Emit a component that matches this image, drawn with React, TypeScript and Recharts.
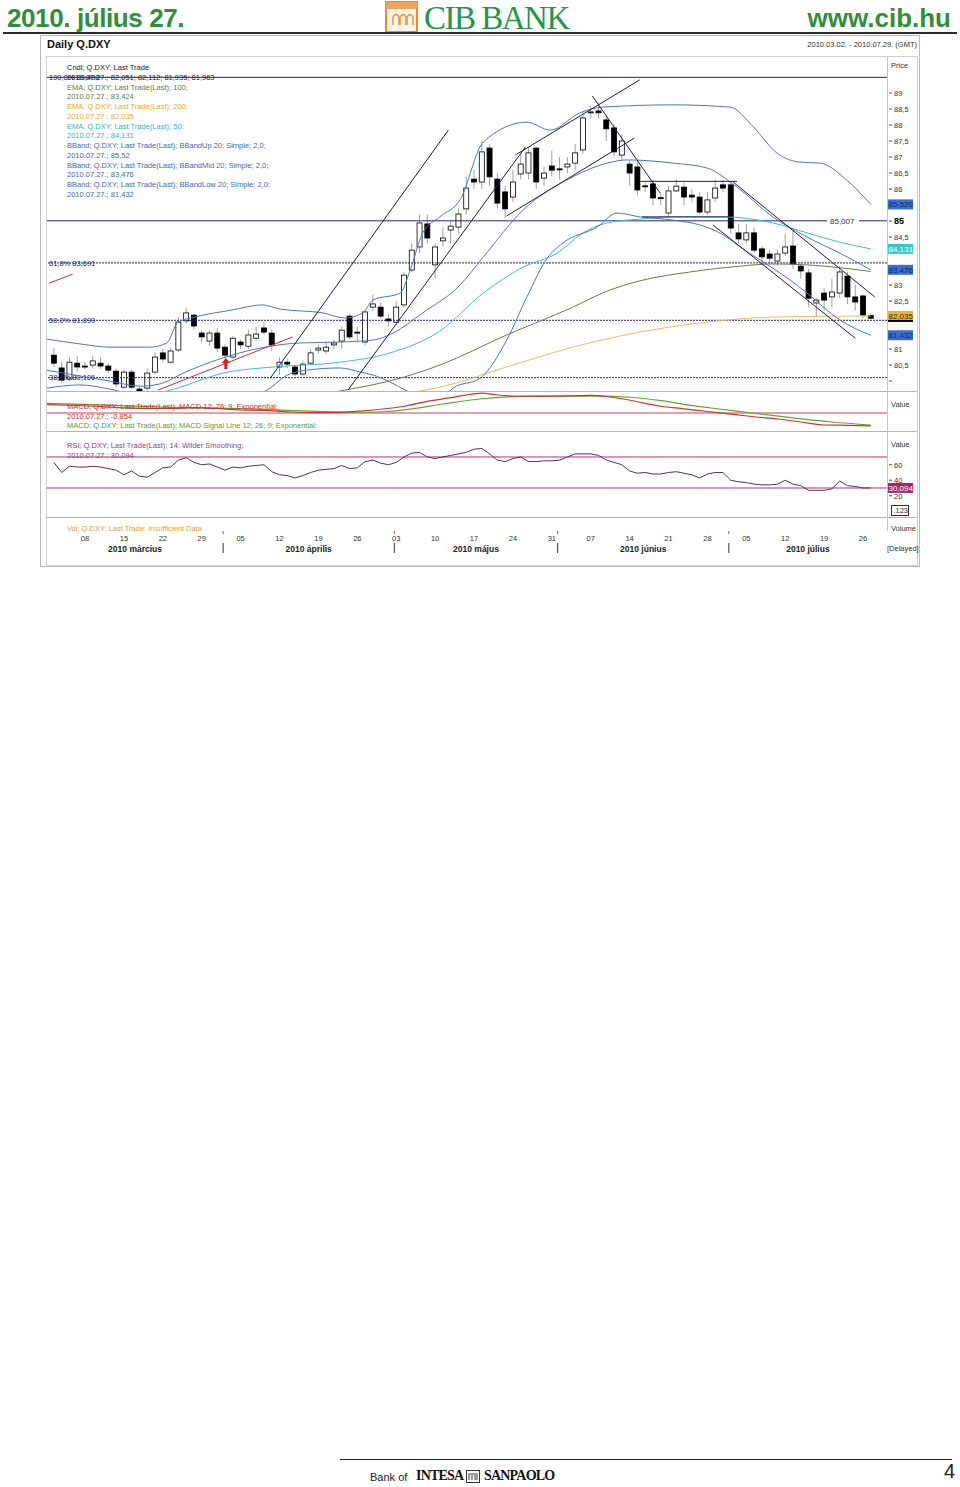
import React from 'react';
import { ComposedChart, Bar, Line, XAxis, YAxis, ReferenceLine, ReferenceDot } from 'recharts';

// daily candles 2010.03.02 - 2010.07.27 (index 0 = Mar 2)
const opens = [80.81, 80.41, 80.06, 80.56, 80.47, 80.5, 80.56, 80.47, 80.31, 79.81, 80.28, 79.75, 79.78, 80.28, 80.88, 80.59, 80.97, 81.88, 82.06, 81.5, 81.25, 81.5, 81.06, 80.75, 81.22, 81.09, 81.34, 81.66, 81.5, 80.44, 80.59, 80.44, 80.22, 80.56, 80.97, 80.94, 81.13, 81.25, 82.03, 81.53, 81.22, 82.31, 82.31, 81.94, 81.84, 82.38, 83.47, 84.19, 84.91, 83.63, 84.38, 84.72, 84.81, 85.38, 86.31, 86.22, 87.28, 86.31, 85.91, 85.75, 86.47, 86.5, 87.28, 86.34, 86.72, 86.63, 86.69, 86.81, 87.22, 88.38, 88.44, 88.16, 87.91, 87.06, 86.78, 86.69, 86.1, 86.16, 85.73, 85.25, 85.94, 86.06, 85.81, 85.75, 85.28, 85.72, 86.13, 86.13, 84.63, 84.41, 84.63, 84.13, 83.97, 83.75, 84.0, 84.22, 83.59, 83.38, 82.44, 82.75, 82.63, 82.75, 83.28, 82.63, 82.66, 82.051];
const highs = [81.03, 80.6, 80.75, 80.78, 80.6, 80.8, 80.75, 80.55, 80.4, 80.35, 80.35, 79.85, 80.4, 80.9, 81.0, 81.05, 82.0, 82.3, 82.1, 81.6, 81.6, 81.65, 81.15, 81.4, 81.3, 81.6, 81.7, 81.85, 81.6, 80.75, 80.7, 80.5, 80.65, 81.0, 81.15, 81.2, 81.3, 81.7, 82.1, 81.7, 82.2, 82.7, 82.45, 82.1, 82.5, 83.4, 84.3, 85.2, 85.2, 84.3, 84.8, 85.0, 85.4, 86.4, 86.6, 87.5, 87.4, 86.5, 86.1, 86.6, 87.1, 87.3, 87.3, 86.7, 87.2, 87.0, 87.0, 87.4, 88.4, 88.6, 88.7, 88.3, 88.0, 87.7, 86.9, 86.9, 86.2, 86.3, 85.9, 86.1, 86.3, 86.2, 86.0, 85.9, 85.9, 86.3, 86.3, 86.2, 84.9, 84.9, 84.8, 84.2, 84.1, 84.1, 84.6, 84.7, 83.7, 83.5, 82.6, 82.9, 83.2, 83.6, 83.4, 83.0, 82.7, 82.112];
const lows = [80.44, 79.95, 80.0, 80.3, 80.35, 80.4, 80.38, 80.25, 79.8, 79.75, 79.75, 79.6, 79.7, 80.2, 80.6, 80.55, 80.9, 81.8, 81.6, 81.2, 81.1, 80.9, 80.7, 80.7, 81.0, 81.0, 81.25, 81.45, 80.95, 80.2, 80.4, 80.15, 80.15, 80.5, 80.85, 80.85, 81.0, 81.0, 81.3, 81.2, 81.1, 82.2, 81.95, 81.7, 81.75, 82.3, 83.4, 84.0, 84.3, 83.2, 84.2, 84.3, 84.6, 85.2, 86.0, 86.0, 86.1, 85.4, 85.1, 85.6, 86.3, 86.3, 86.0, 86.1, 86.4, 86.3, 86.5, 86.6, 87.1, 88.2, 88.2, 87.5, 87.0, 86.9, 86.1, 85.8, 85.9, 85.5, 85.5, 85.1, 85.9, 85.5, 85.6, 85.2, 85.2, 85.6, 85.9, 84.6, 84.3, 84.3, 84.0, 83.7, 83.7, 83.6, 83.9, 83.5, 83.2, 82.3, 82.0, 82.2, 82.3, 82.6, 82.4, 82.2, 81.95, 81.935];
const closes = [80.56, 80.03, 80.59, 80.44, 80.45, 80.63, 80.47, 80.34, 79.91, 80.28, 79.81, 79.66, 80.25, 80.75, 80.69, 80.94, 81.84, 82.13, 81.72, 81.38, 81.5, 81.03, 80.81, 81.34, 81.13, 81.44, 81.47, 81.53, 81.13, 80.59, 80.53, 80.22, 80.53, 80.88, 81.03, 81.06, 81.19, 81.59, 81.38, 81.5, 82.16, 82.41, 82.03, 81.88, 82.31, 83.31, 84.09, 84.94, 84.47, 84.19, 84.47, 84.84, 85.22, 86.03, 86.22, 87.16, 86.38, 85.56, 85.38, 86.22, 86.78, 87.13, 86.22, 86.5, 86.59, 86.6, 86.78, 87.13, 88.22, 88.41, 88.38, 87.88, 87.16, 87.5, 86.5, 85.97, 86.09, 85.72, 85.72, 85.94, 86.09, 85.75, 85.75, 85.28, 85.66, 86.03, 86.03, 84.78, 84.44, 84.63, 84.09, 83.88, 83.84, 83.97, 84.19, 83.66, 83.44, 82.59, 82.53, 82.53, 82.78, 83.41, 82.63, 82.47, 82.06, 81.963];

// indicator readings [day index, value]
const ema50 = [[-1, 79.2], [8, 79.45], [14.5, 79.69], [22.3, 80.28], [28.2, 80.44], [36.8, 80.59], [43.2, 80.88], [49.6, 81.56], [55.2, 82.75], [60.3, 83.56], [64.7, 84.0], [68, 84.63], [71.1, 84.94], [75.3, 85.06], [79.6, 85.13], [86, 85.13], [92.4, 84.94], [96.8, 84.63], [101, 84.34], [105, 84.131]];
const ema100 = [[-1, 78.7], [20, 79.2], [36.8, 79.69], [44.5, 80.09], [49.6, 80.5], [58.2, 81.44], [66.7, 82.31], [71.1, 82.81], [75.3, 83.13], [81.8, 83.41], [88.2, 83.59], [92.4, 83.66], [96.8, 83.63], [105, 83.424]];
const ema200 = [[-1, 78.6], [30, 79.2], [47.1, 79.69], [49.6, 79.81], [58.2, 80.44], [66.7, 81.06], [75.3, 81.53], [83.9, 81.84], [92.4, 82.0], [105, 82.035]];
const bbUp = [[-0.9, 81.31], [3.35, 81.16], [7.2, 81.06], [12.35, 81.06], [14.5, 81.19], [15.95, 81.84], [18.1, 82.0], [22.9, 82.22], [26.75, 82.38], [29.1, 82.25], [34.6, 82.13], [37.4, 81.97], [39.7, 82.13], [41, 82.53], [44.5, 82.75], [45.8, 83.47], [47.4, 84.63], [49.6, 85.13], [52.2, 85.66], [55.2, 87.47], [60.8, 88.09], [63.8, 87.84], [67.6, 88.38], [70.6, 88.56], [79.6, 88.63], [86.9, 88.56], [89.9, 87.94], [92.9, 87.13], [95.9, 86.84], [98.5, 86.81], [101.9, 86.28], [105, 85.52]];
const bbMid = [[-0.9, 80.34], [3.35, 80.16], [7.2, 80.0], [11.1, 79.84], [13.6, 79.91], [16.9, 80.28], [20.1, 80.59], [23.9, 80.88], [27.8, 81.09], [31.6, 81.19], [36.8, 81.22], [41, 81.28], [43.6, 81.5], [47.4, 82.13], [52.2, 83.0], [55.2, 83.88], [60.3, 85.34], [66.7, 86.38], [71.1, 86.81], [73.7, 86.91], [79.6, 86.81], [83.9, 86.66], [87.8, 86.06], [92.4, 85.13], [96.8, 84.5], [101, 84.0], [105, 83.476]];
const bbLow = [[-0.9, 79.78], [3.35, 79.88], [7.2, 79.75], [11.1, 79.53], [18.8, 79.4], [23.9, 79.5], [27.4, 79.72], [30, 80.19], [32.5, 80.34], [36.8, 80.41], [39.4, 80.28], [41, 80.19], [43.2, 79.97], [45.4, 79.69], [47.7, 79.4], [50.3, 79.56], [51.3, 79.78], [54.8, 80.09], [58.2, 81.28], [60.8, 82.63], [63.4, 83.84], [65.4, 84.31], [69.8, 84.81], [72.4, 85.25], [75.3, 85.13], [79.6, 85.03], [83.9, 84.81], [86.5, 84.5], [88.2, 84.19], [90.8, 83.78], [94.6, 83.16], [96.8, 82.75], [101, 81.91], [105, 81.432]];

const macd = [[-1, 0.56], [3, 0.5], [6, 0.43], [9, 0.35], [12, 0.3], [15, 0.3], [18, 0.36], [21, 0.3], [24, 0.2], [27, 0.18], [30, 0.08], [33, 0.02], [36, 0.03], [39, 0.12], [42, 0.25], [45, 0.45], [48, 0.78], [51, 1.02], [54, 1.28], [55, 1.33], [57, 1.2], [60, 1.12], [63, 1.12], [66, 1.14], [69, 1.18], [71, 1.1], [73, 0.95], [75, 0.75], [78, 0.45], [81, 0.28], [84, 0.1], [87, -0.08], [90, -0.25], [93, -0.4], [96, -0.6], [99, -0.8], [102, -0.82], [105, -0.854]];
const signal = [[-1, 0.65], [5, 0.56], [10, 0.46], [15, 0.38], [20, 0.34], [25, 0.27], [30, 0.18], [35, 0.09], [40, 0.05], [43, 0.1], [46, 0.28], [50, 0.6], [55, 0.95], [60, 1.1], [65, 1.13], [70, 1.13], [74, 1.05], [78, 0.82], [81, 0.58], [85, 0.3], [89, 0.05], [95, -0.32], [100, -0.6], [105, -0.8]];
const rsi = [63, 50, 58, 57, 57, 58, 57, 55, 53, 47, 52, 45, 44, 50, 56, 57, 66, 69, 63, 60, 61, 57, 53, 57, 56, 58, 59, 60, 51, 47, 46, 43, 46, 50, 53, 54, 55, 59, 55, 56, 64, 66, 62, 60, 63, 70, 75, 76, 70, 68, 70, 72, 74, 76, 80, 81, 74, 66, 64, 68, 70, 64, 64, 65, 65, 66, 70, 74, 74, 74, 72, 66, 63, 60, 52, 49, 50, 48, 48, 50, 51, 49, 47, 43, 48, 50, 50, 40, 38, 37, 35, 34, 34, 35, 40, 35, 33, 27, 27, 27, 29, 39, 33, 32, 30, 30.094];

// fibonacci / horizontal levels
const fibLevels = [
  { v: 89.49, text: '100,0%   89,490', dashed: false },
  { v: 83.691, text: '61,8%   83,691', dashed: true },
  { v: 81.899, text: '50,0%   81,899', dashed: true },
  { v: 80.106, text: '38,2%   80,106', dashed: true },
];
// trend lines [i1, p1, i2, p2]
const trendLines = [
  [27.8, 80.09, 50.7, 87.84],
  [37.8, 79.72, 60.6, 87.31],
  [59.3, 87.06, 75.3, 89.41],
  [58.2, 85.16, 74.6, 87.59],
  [69.2, 88.91, 77.9, 85.88],
  [87.3, 86.22, 105.5, 82.63],
  [84.7, 84.88, 103, 81.34],
  [75.4, 86.24, 87.8, 86.24],
  [75.6, 85.13, 87.0, 85.13],
];
const redLines = [
  [13.4, 79.72, 30.7, 81.38],
  [-0.6, 83.06, 2.4, 83.34],
];
const priceTicks = [80, 80.5, 81, 82.5, 83, 84.5, 85, 86, 86.5, 87, 87.5, 88, 88.5, 89];
const rightTags = [
  { v: 85.52, text: '85,520', bg: '#3a6fd0', fg: '#0d2a70' },
  { v: 84.131, text: '84,131', bg: '#36c8c8', fg: '#ffffff' },
  { v: 83.476, text: '83,476', bg: '#3a6fd0', fg: '#0d2a70' },
  { v: 82.035, text: '82,035', bg: '#e9b436', fg: '#3a2800' },
  { v: 81.432, text: '81,432', bg: '#3a6fd0', fg: '#0d2a70' },
];
const mondayIdx = [4, 9, 14, 19, 24, 29, 34, 39, 44, 49, 54, 59, 64, 69, 74, 79, 84, 89, 94, 99, 104];
const dayLabels = ['08', '15', '22', '29', '05', '12', '19', '26', '03', '10', '17', '24', '31', '07', '14', '21', '28', '05', '12', '19', '26'];
const monthEnds = [21.75, 43.75, 64.75, 86.75];
const monthNames = ['2010 március', '2010 április', '2010 május', '2010 június', '2010 július'];

const legendPrice = [
  ['Cndl; Q.DXY; Last Trade', '#222'],
  ['2010.07.27.; 82,051; 82,112; 81,935; 81,963', '#222'],
  ['EMA; Q.DXY; Last Trade(Last);  100;', '#5e7b38'],
  ['2010.07.27.; 83,424', '#5e7b38'],
  ['EMA; Q.DXY; Last Trade(Last);  200;', '#e2a82c'],
  ['2010.07.27.; 82,035', '#e2a82c'],
  ['EMA; Q.DXY; Last Trade(Last);  50;', '#2fb5c4'],
  ['2010.07.27.; 84,131', '#2fb5c4'],
  ['BBand; Q.DXY; Last Trade(Last); BBandUp 20; Simple; 2,0;', '#3d6ab5'],
  ['2010.07.27.; 85,52', '#3d6ab5'],
  ['BBand; Q.DXY; Last Trade(Last); BBandMid 20; Simple; 2,0;', '#3d6ab5'],
  ['2010.07.27.; 83,476', '#3d6ab5'],
  ['BBand; Q.DXY; Last Trade(Last); BBandLow 20; Simple; 2,0;', '#3d6ab5'],
  ['2010.07.27.; 81,432', '#3d6ab5'],
];

const X_DOMAIN: [number, number] = [-0.887, 107.08];
const FONT = '"Liberation Sans", Arial, Helvetica, sans-serif';
const NAVY = '#23236b';

const candles = opens.map((o, i) => ({ i, o, h: highs[i], l: lows[i], c: closes[i] }));
const pts = (arr: number[][]) => arr.map(([i, v]) => ({ i, v }));
const rsiPts = rsi.map((v, i) => ({ i, v }));
const monthCenters = monthNames.map((_, k) => {
  const a = k === 0 ? X_DOMAIN[0] : monthEnds[k - 1];
  const b = k === monthEnds.length ? X_DOMAIN[1] : monthEnds[k];
  return (a + b) / 2;
});

const Candle = (props: any) => {
  const { x, y, width, height, payload } = props;
  if (!payload || x == null) return null;
  const { o, h, l, c } = payload;
  const top = Math.min(y, y + height);
  const span = Math.abs(height);
  const k = h - l > 0 ? span / (h - l) : 0;
  const yOf = (v: number) => top + (h - v) * k;
  const cx = x + width / 2;
  const bt = yOf(Math.max(o, c));
  const bb = yOf(Math.min(o, c));
  return (
    <g>
      <line x1={cx} x2={cx} y1={top} y2={top + span} stroke="#a0a0a0" strokeWidth={1} />
      <rect x={cx - 2.5} y={bt} width={5} height={Math.max(1, bb - bt)} fill={c >= o ? '#ffffff' : '#000000'} stroke="#000" strokeWidth={0.8} />
    </g>
  );
};

const AxisTick = (props: any) => {
  const { x, y, payload } = props;
  const v = payload.value;
  const bold = v === 85;
  return (
    <g>
      <line x1={x - 6} x2={x - 3} y1={y} y2={y} stroke="#555" />
      <text x={x - 1} y={y + 2.8} fontSize={bold ? 9 : 7.5} fontWeight={bold ? 700 : 400} fill={bold ? '#000' : '#333'} fontFamily={FONT}>
        {v === 80 ? '' : String(v).replace('.', ',')}
      </text>
    </g>
  );
};

const tagLabel = (t: any) => (p: any) => {
  const vb = p.viewBox;
  const x = vb.x + vb.width + 1;
  return (
    <g>
      <rect x={x} y={vb.y - 5} width={25} height={10} fill={t.bg} />
      {t.v === 82.035 && <rect x={x} y={vb.y + 4} width={25} height={2} fill="#000" />}
      <text x={x + 0.5} y={vb.y + 3} fontSize={8} fill={t.fg} fontFamily={FONT}>{t.text}</text>
    </g>
  );
};

const fibLabel = (text: string) => (p: any) => {
  const vb = p.viewBox;
  return (
    <text x={vb.x + 2} y={vb.y + 2.8} fontSize={7.5} fill={NAVY} fontFamily={FONT}>{text}</text>
  );
};

const levelLabel = (p: any) => {
  const vb = p.viewBox;
  const x = vb.x + vb.width - 60;
  return (
    <g>
      <rect x={x} y={vb.y - 5} width={32} height={10} fill="#fff" />
      <text x={x + 3} y={vb.y + 3} fontSize={8} fill="#333" fontFamily={FONT}>85,007</text>
    </g>
  );
};

const Arrow = (props: any) => {
  const { cx, cy } = props;
  return (
    <path d={`M${cx},${cy} L${cx + 4},${cy + 5} L${cx + 1.5},${cy + 5} L${cx + 1.5},${cy + 11} L${cx - 1.5},${cy + 11} L${cx - 1.5},${cy + 5} L${cx - 4},${cy + 5} Z`} fill="#e01818" />
  );
};

const DayTick = (props: any) => {
  const { x, y, payload } = props;
  const k = mondayIdx.indexOf(payload.value);
  return (
    <text x={x} y={y + 2} textAnchor="middle" fontSize={7.5} fill="#333" fontFamily={FONT}>{dayLabels[k]}</text>
  );
};

const MonthTick = (props: any) => {
  const { x, y, payload } = props;
  const k = monthCenters.indexOf(payload.value);
  if (k >= 0) {
    return (
      <text x={x} y={y + 1} textAnchor="middle" fontSize={8.5} fontWeight={700} fill="#222" fontFamily={FONT}>{monthNames[k]}</text>
    );
  }
  return (
    <g>
      <line x1={x} x2={x} y1={y - 8} y2={y + 2} stroke="#333" strokeWidth={1} />
      <line x1={x} x2={x} y1={y - 20} y2={y - 17} stroke="#666" strokeWidth={1} />
    </g>
  );
};

const Txt = ({ x, y, size = 7.5, color = '#333', bold = false, children, right = false, family = FONT, style = {} }: any) => (
  <div style={{
    position: 'absolute', top: y, ...(right ? { right: 960 - x } : { left: x }), fontSize: size, lineHeight: `${size + 2}px`,
    color, fontWeight: bold ? 700 : 400, whiteSpace: 'nowrap', fontFamily: family, ...style,
  }}>{children}</div>
);

const lineProps = { type: 'monotone' as const, dataKey: 'v', dot: false, isAnimationActive: false, strokeWidth: 1, activeDot: false as const };

export default function App() {
  return (
    <div style={{ position: 'absolute', left: 0, top: 0, width: 960, height: 1487, background: '#fff', fontFamily: FONT }}>
      {/* page header */}
      <Txt x={7} y={3} size={26} bold color="#2f8f3a" family='"Liberation Sans Narrow", "Liberation Sans", Arial, sans-serif' style={{ lineHeight: '30px', letterSpacing: -0.4 }}>2010. július 27.</Txt>
      <svg style={{ position: 'absolute', left: 385, top: 1 }} width={34} height={32}>
        <rect x={1} y={1} width={31} height={30} fill="#fff3e6" stroke="#e98a2c" strokeWidth={2} />
        <rect x={1} y={1} width={31} height={7} fill="#f2a35a" />
        {[0, 1, 2].map((k) => (
          <path key={k} d={`M${8 + k * 7},24 L${8 + k * 7},16 Q${11 + k * 7},11 ${14 + k * 7},16 L${14 + k * 7},24`} fill="none" stroke="#e98a2c" strokeWidth={1.3} />
        ))}
      </svg>
      <Txt x={424} y={0} size={33} color="#23964a" family='"Liberation Serif", "Times New Roman", serif' style={{ lineHeight: '36px', letterSpacing: -1.5 }}>CIB BANK</Txt>
      <Txt x={951} y={3} size={26} bold right color="#2f8f3a" family='"Liberation Sans Narrow", "Liberation Sans", Arial, sans-serif' style={{ lineHeight: '30px' }}>www.cib.hu</Txt>
      <div style={{ position: 'absolute', left: 3, top: 32, width: 954, height: 2, background: '#2a2a2a' }} />

      {/* chart frame */}
      <div style={{ position: 'absolute', left: 40, top: 35, width: 880, height: 532, border: '1px solid #b9b9b9', boxSizing: 'border-box' }} />
      <div style={{ position: 'absolute', left: 46, top: 56, width: 872, height: 510, border: '1px solid #cfcfcf', boxSizing: 'border-box' }} />
      <Txt x={47} y={38} size={11} bold color="#111">Daily Q.DXY</Txt>
      <Txt x={917} y={40} size={7.5} right color="#333">2010.03.02. - 2010.07.29. (GMT)</Txt>

      {/* price panel */}
      <div style={{ position: 'absolute', left: 47, top: 57 }}>
        <ComposedChart width={870} height={334} data={candles} margin={{ top: 0, right: 0, bottom: 0, left: 0 }}>
          <XAxis dataKey="i" type="number" domain={X_DOMAIN} hide allowDataOverflow />
          <YAxis orientation="right" width={30} domain={[79.69, 90.125]} ticks={priceTicks} interval={0} allowDataOverflow axisLine={false} tickLine={false} tick={<AxisTick />} />
          {fibLevels.map((f) => (
            <ReferenceLine key={f.v} y={f.v} stroke={NAVY} strokeWidth={1} strokeDasharray={f.dashed ? '2 1' : undefined} label={fibLabel(f.text)} />
          ))}
          <ReferenceLine y={85.007} stroke={NAVY} strokeWidth={1} label={levelLabel} />
          <Line {...lineProps} data={pts(ema200)} stroke="#e6c05a" />
          <Line {...lineProps} data={pts(ema100)} stroke="#6a7d48" />
          <Line {...lineProps} data={pts(ema50)} stroke="#3cc0c8" />
          <Line {...lineProps} data={pts(bbLow)} stroke="#4a78c2" />
          <Line {...lineProps} data={pts(bbMid)} stroke="#4a78c2" />
          <Line {...lineProps} data={pts(bbUp)} stroke="#4a78c2" />
          <Bar dataKey={(d: any) => [d.l, d.h]} shape={<Candle />} barSize={6} isAnimationActive={false} />
          {trendLines.map((t, k) => (
            <ReferenceLine key={`t${k}`} segment={[{ x: t[0], y: t[1] }, { x: t[2], y: t[3] }]} stroke="#1c1c58" strokeWidth={1} ifOverflow="hidden" />
          ))}
          {redLines.map((t, k) => (
            <ReferenceLine key={`r${k}`} segment={[{ x: t[0], y: t[1] }, { x: t[2], y: t[3] }]} stroke="#d42a2a" strokeWidth={1} ifOverflow="hidden" />
          ))}
          <ReferenceDot x={22.1} y={80.72} r={4} shape={<Arrow />} />
          {rightTags.map((t) => (
            <ReferenceLine key={t.text} y={t.v} stroke="none" label={tagLabel(t)} />
          ))}
        </ComposedChart>
      </div>
      {legendPrice.map(([text, color], k) => (
        <Txt key={k} x={67} y={63 + k * 9.77} color={color}>{text}</Txt>
      ))}
      <Txt x={891} y={61} size={7.5} color="#333">Price</Txt>

      {/* MACD panel */}
      <div style={{ position: 'absolute', left: 47, top: 391 }}>
        <ComposedChart width={870} height={40} margin={{ top: 0, right: 0, bottom: 0, left: 0 }}>
          <XAxis dataKey="i" type="number" domain={X_DOMAIN} hide allowDataOverflow />
          <YAxis orientation="right" width={30} domain={[-1.2, 1.467]} allowDataOverflow axisLine={false} tickLine={false} tick={false} />
          <ReferenceLine y={0} stroke="#d2405a" strokeWidth={1.2} />
          <Line {...lineProps} data={pts(signal)} stroke="#5ea832" strokeWidth={1.2} />
          <Line {...lineProps} data={pts(macd)} stroke="#d83030" strokeWidth={1.2} />
        </ComposedChart>
      </div>
      <Txt x={67} y={402} color="#c83030">MACD; Q.DXY; Last Trade(Last); MACD 12; 26; 9; Exponential;</Txt>
      <Txt x={67} y={412} color="#c83030">2010.07.27.; -0,854</Txt>
      <Txt x={67} y={421} color="#5a9e2e">MACD; Q.DXY; Last Trade(Last); MACD Signal Line 12; 26; 9; Exponential;</Txt>
      <Txt x={891} y={400} color="#333">Value</Txt>

      {/* RSI panel */}
      <div style={{ position: 'absolute', left: 47, top: 431 }}>
        <ComposedChart width={870} height={86} margin={{ top: 0, right: 0, bottom: 0, left: 0 }}>
          <XAxis dataKey="i" type="number" domain={X_DOMAIN} hide allowDataOverflow />
          <YAxis orientation="right" width={30} domain={[-7.4, 103.5]} ticks={[20, 40, 60]} interval={0} allowDataOverflow axisLine={false} tickLine={false} tick={<AxisTick />} />
          <ReferenceLine y={70} stroke="#bf2f6e" strokeWidth={1} />
          <ReferenceLine y={30} stroke="#bf2f6e" strokeWidth={1} />
          <Line {...lineProps} data={rsiPts} stroke="#5b2d5f" strokeWidth={1} type="linear" />
          <ReferenceLine y={30.094} stroke="none" label={(p: any) => (
            <g>
              <rect x={p.viewBox.x + p.viewBox.width + 1} y={p.viewBox.y - 5} width={25} height={10} fill="#a3266e" />
              <text x={p.viewBox.x + p.viewBox.width + 1.5} y={p.viewBox.y + 3} fontSize={8} fill="#fff" fontFamily={FONT}>30,094</text>
            </g>
          )} />
        </ComposedChart>
      </div>
      <Txt x={67} y={441} color="#8b3f8b">RSI; Q.DXY; Last Trade(Last);  14; Wilder Smoothing;</Txt>
      <Txt x={67} y={451} color="#8b3f8b">2010.07.27.; 30,094</Txt>
      <Txt x={891} y={440} color="#333">Value</Txt>
      <div style={{ position: 'absolute', left: 891, top: 505, width: 16, height: 9, border: '1px solid #333', fontSize: 7.5, lineHeight: '9px', fontFamily: FONT, color: '#333', textAlign: 'right' }}>.123</div>

      {/* volume strip + time axis */}
      <div style={{ position: 'absolute', left: 67, top: 524, height: 8, overflow: 'hidden' }}>
        <div style={{ fontSize: 7.5, lineHeight: '10px', color: '#e0a040', fontFamily: FONT, whiteSpace: 'nowrap' }}>Vol; Q.DXY; Last Trade; Insufficient Data</div>
      </div>
      <div style={{ position: 'absolute', left: 891, top: 524, height: 8, overflow: 'hidden' }}>
        <div style={{ fontSize: 7.5, lineHeight: '10px', color: '#333', fontFamily: FONT }}>Volume</div>
      </div>
      <div style={{ position: 'absolute', left: 47, top: 517 }}>
        <ComposedChart width={870} height={40} data={candles} margin={{ top: 0, right: 0, bottom: 0, left: 0 }}>
          <XAxis xAxisId="d" dataKey="i" type="number" domain={X_DOMAIN} allowDataOverflow ticks={mondayIdx} interval={0} height={12} axisLine={false} tickLine={false} tick={<DayTick />} />
          <XAxis xAxisId="m" dataKey="i" type="number" domain={X_DOMAIN} allowDataOverflow ticks={[...monthCenters, ...monthEnds]} interval={0} height={14} axisLine={false} tickLine={false} tick={<MonthTick />} />
          <YAxis orientation="right" width={30} domain={[0, 1]} axisLine={false} tickLine={false} tick={false} />
          <Line xAxisId="d" dataKey="c" stroke="none" dot={false} isAnimationActive={false} />
        </ComposedChart>
      </div>
      <Txt x={887} y={544} color="#333">[Delayed]</Txt>

      {/* panel separators */}
      {[391, 431, 517].map((y) => (
        <div key={y} style={{ position: 'absolute', left: 47, top: y, width: 870, height: 1, background: '#b5b5b5' }} />
      ))}
      <div style={{ position: 'absolute', left: 887, top: 57, width: 1, height: 474, background: '#c5c5c5' }} />

      {/* footer */}
      <div style={{ position: 'absolute', left: 340, top: 1459, width: 612, height: 1, background: '#222' }} />
      <Txt x={370} y={1471} size={11} color="#222">Bank of</Txt>
      <Txt x={416} y={1468} size={14} bold color="#111" family='"Liberation Serif", serif' style={{ letterSpacing: -0.8 }}>INTESA</Txt>
      <svg style={{ position: 'absolute', left: 466, top: 1470 }} width={14} height={13}>
        <rect x={0.5} y={0.5} width={13} height={12} fill="none" stroke="#333" />
        <path d="M3,10 L3,5 M6,10 L6,5 M9,10 L9,5 M11,10 L11,5 M2,4 L12,4" stroke="#333" />
      </svg>
      <Txt x={484} y={1468} size={14} bold color="#111" family='"Liberation Serif", serif' style={{ letterSpacing: -0.8 }}>SANPAOLO</Txt>
      <Txt x={944} y={1460} size={20} color="#222">4</Txt>
    </div>
  );
}
